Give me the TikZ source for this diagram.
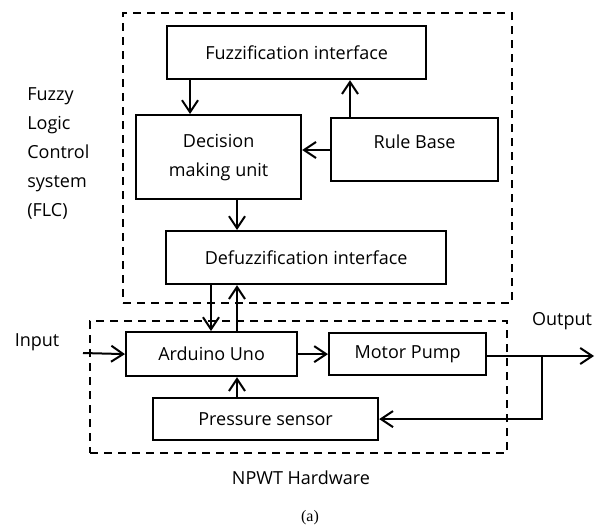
\documentclass[tikz,border=0pt]{standalone}
\usepackage{fontspec}
\setmainfont{Open Sans}
\newfontfamily\capfont{Liberation Serif}
\usetikzlibrary{arrows.meta}

\begin{document}
\begin{tikzpicture}[x=1pt, y=-1pt, line width=2pt,
  >={Straight Barb[length=12pt, width=16pt]},
  font=\fontsize{18}{29}\selectfont,
  blk/.style={draw, rectangle, line width=2.2pt, inner sep=0pt, anchor=north west},
  grp/.style={draw, rectangle, dash pattern=on 8pt off 6pt, line width=2pt, inner sep=0pt, anchor=north west}]
\useasboundingbox (0,0) rectangle (601,530);
% fuzzy logic controller
\node[grp, minimum width=389pt, minimum height=290pt] (flc) at (122,12) {};
\node[blk, minimum width=259pt, minimum height=53pt] (fuzz) at (166,25) {Fuzzification interface};
\node[blk, minimum width=165pt, minimum height=84pt, align=center] (dec) at (135,114) {Decision\\making unit};
\node[blk, minimum width=167pt, minimum height=63pt, label={[yshift=8pt]center:Rule Base}] (rule) at (330,117) {};
\node[blk, minimum width=280pt, minimum height=53pt] (defuzz) at (165,230) {Defuzzification interface};
\draw[->] (fuzz.south -| 190,0) -- (dec.north -| 190,0);
\draw[->] (rule.north -| 350,0) -- (fuzz.south -| 350,0);
\draw[->] (rule.west |- 0,150) -- (dec.east |- 0,150);
\draw[->] (dec.south -| 237,0) -- (defuzz.north -| 237,0);
\node[anchor=north west, align=left] (flclab) at (23,83) {Fuzzy\\Logic\\Control\\system\\(FLC)};
% hardware
\node[grp, minimum width=417pt, minimum height=132pt] (npwt) at (89,320) {};
\node[blk, minimum width=171pt, minimum height=44pt] (ard) at (125,331) {Arduino Uno};
\node[blk, minimum width=157pt, minimum height=42pt] (pump) at (328,332) {Motor Pump};
\node[blk, minimum width=225pt, minimum height=42pt] (sensor) at (152,397) {Pressure sensor};
\draw[->] (defuzz.south -| 211,0) -- (ard.north -| 211,0);
\draw[->] (ard.north -| 237,0) -- (defuzz.south -| 237,0);
\draw[->] (sensor.north -| 237,0) -- (ard.south -| 237,0);
\draw[->] (ard.east) -- (pump.west);
\coordinate (inp) at (83,353);
\coordinate (tap) at (542,356);
\coordinate (outp) at (594,356);
\draw[->] (inp) -- (ard.west);
\draw[->] (pump.east |- tap) -- (outp);
\draw[->] (tap) |- (sensor.east);
\node (inlab) at (37,342) {Input};
\node (outlab) at (562,321) {Output};
\node (npwtlab) at (301,478) {NPWT Hardware};
\node[font=\capfont\fontsize{16}{18}\selectfont] (cap) at (310,518) {(a)};
\end{tikzpicture}
\end{document}
